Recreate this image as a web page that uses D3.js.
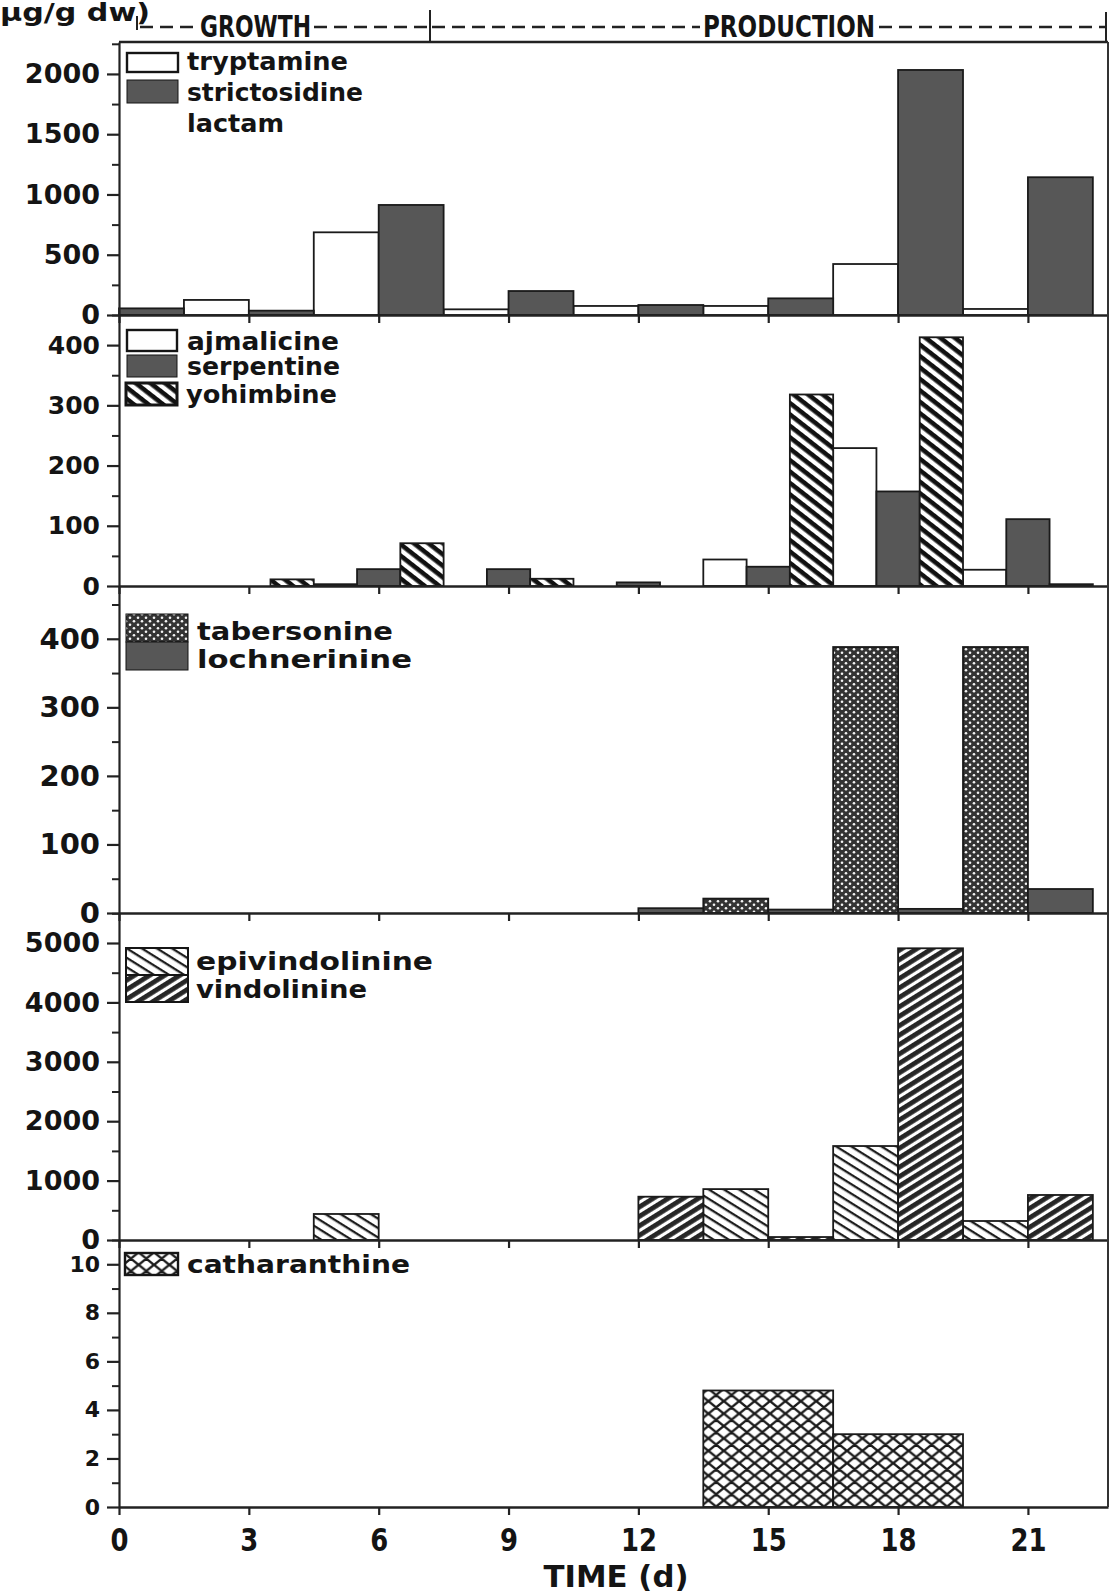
<!DOCTYPE html>
<html><head><meta charset="utf-8">
<script src="https://cdn.jsdelivr.net/npm/d3@7"></script>
<style>
body{margin:0;background:#fff}
svg{display:block}
text{font-family:"DejaVu Sans",sans-serif;font-weight:bold;fill:#141414}
</style>
</head><body>
<svg id="c" width="1110" height="1596"></svg>
<script>
// ---------------- data ----------------
const days = [0, 3, 6, 9, 12, 15, 18, 21];
const xTickValues = [0, 3, 6, 9, 12, 15, 18, 21];

const tryptamine    = [null, 125, 686, 47, 75, 75, 423, 50];
const strictosidine = [55, 36, 913, 199, 83, 138, 2033, 1143];

const ajmalicine = [0, 0, 3, 0, 0, 44, 229, 27];
const serpentine = [0, 0, 28, 28, 6, 32, 157, 111];
const yohimbine  = [0, 11, 71, 12, 0, 318, 413, 3];

const tabersonine  = [0, 0, 0, 0, 0, 21, 388, 388];
const lochnerinine = [0, 0, 0, 0, 7, 5, 6, 35];

const epivindolinine = [0, 0, 438, 0, 0, 857, 1582, 320];
const vindolinine    = [0, 0, 0, 0, 729, 50, 4911, 758];

const catharanthine = [0, 0, 0, 0, 0, 4.8, 3.0, 0];

const yTicks1 = [0, 500, 1000, 1500, 2000];
const yTicks2 = [0, 100, 200, 300, 400];
const yTicks3 = [0, 100, 200, 300, 400];
const yTicks4 = [0, 1000, 2000, 3000, 4000, 5000];
const yTicks5 = [0, 2, 4, 6, 8, 10];

// ---------------- setup ----------------
const svg = d3.select("#c");
const defs = svg.append("defs");

function stripes(id, angle, period, lineW, bg, fg) {
  const p = defs.append("pattern").attr("id", id)
    .attr("patternUnits", "userSpaceOnUse")
    .attr("width", period).attr("height", period)
    .attr("patternTransform", `rotate(${angle})`);
  p.append("rect").attr("width", period).attr("height", period).attr("fill", bg);
  p.append("rect").attr("width", period).attr("height", lineW).attr("fill", fg);
}
stripes("yoh", 38, 9, 4.6, "#fff", "#111");
stripes("epi", 32, 8, 2.3, "#fff", "#1e1e1e");
stripes("vin", -32, 8, 4.8, "#fff", "#262626");

// tabersonine: dark with white dots
const tp = defs.append("pattern").attr("id", "tab").attr("patternUnits", "userSpaceOnUse")
  .attr("width", 8).attr("height", 7);
tp.append("rect").attr("width", 8).attr("height", 7).attr("fill", "#333");
tp.append("circle").attr("cx", 2).attr("cy", 1.75).attr("r", 1.3).attr("fill", "#f4f4f4");
tp.append("circle").attr("cx", 6).attr("cy", 5.25).attr("r", 1.3).attr("fill", "#f4f4f4");

// catharanthine: diamond lattice
const cw = 15.4, ch = 12.4;
const cp = defs.append("pattern").attr("id", "cath").attr("patternUnits", "userSpaceOnUse")
  .attr("width", cw).attr("height", ch);
cp.append("rect").attr("width", cw).attr("height", ch).attr("fill", "#fff");
let cpath = "";
[[0,0],[cw,0],[-cw,0],[0,ch],[0,-ch]].forEach(([dx,dy]) => {
  cpath += `M${dx},${dy}L${dx+cw},${dy+ch}M${dx},${dy+ch}L${dx+cw},${dy}`;
});
cp.append("path").attr("d", cpath).attr("stroke", "#1a1a1a").attr("stroke-width", 2.4).attr("fill", "none");

const DARK = "#575757";

const x = d3.scaleLinear().domain([0, 22.85]).range([119, 1108]);

const panels = [
  { top: 42, zero: 315, max: 2265, ticks: yTicks1, minor: 250, fs: 27,
    series: [ {name: "tryptamine", v: tryptamine, fill: "#fff"},
              {name: "strictosidine", v: strictosidine, fill: DARK} ] },
  { top: 315, zero: 586, max: 450, ticks: yTicks2, minor: 50, fs: 25,
    series: [ {name: "ajmalicine", v: ajmalicine, fill: "#fff"},
              {name: "serpentine", v: serpentine, fill: DARK},
              {name: "yohimbine", v: yohimbine, fill: "url(#yoh)"} ] },
  { top: 586, zero: 913, max: 477, ticks: yTicks3, minor: 50, fs: 29,
    series: [ {name: "tabersonine", v: tabersonine, fill: "url(#tab)"},
              {name: "lochnerinine", v: lochnerinine, fill: DARK} ] },
  { top: 913, zero: 1240, max: 5505, ticks: yTicks4, minor: 500, fs: 27,
    series: [ {name: "epivindolinine", v: epivindolinine, fill: "url(#epi)"},
              {name: "vindolinine", v: vindolinine, fill: "url(#vin)"} ] },
  { top: 1240, zero: 1507, max: 11, ticks: yTicks5, minor: 1, fs: 22,
    series: [ {name: "catharanthine", v: catharanthine, fill: "url(#cath)"} ] }
];

panels.forEach((p, pi) => {
  const y = d3.scaleLinear().domain([0, p.max]).range([p.zero, p.top]);
  p.y = y;
  const n = p.series.length, w = 3 / n;
  const g = svg.append("g");
  p.series.forEach((s, i) => {
    const bars = days.map((d, j) => ({x0: d - 1.5 + i * w, v: s.v[j]}))
      .filter(b => b.v != null && b.v > 0 && b.x0 >= 0);
    g.selectAll(null).data(bars).enter().append("rect")
      .attr("x", b => x(b.x0))
      .attr("width", x(w) - x(0))
      .attr("y", b => y(b.v))
      .attr("height", b => y(0) - y(b.v))
      .attr("fill", s.fill)
      .attr("stroke", "#1a1a1a")
      .attr("stroke-width", 1.8);
  });

  // minor y ticks
  const minorVals = d3.range(0, p.max + 1e-9, p.minor).filter(v => !p.ticks.includes(v));
  svg.append("g").attr("transform", `translate(${x(0)},0)`)
    .call(d3.axisLeft(y).tickValues(minorVals).tickFormat("").tickSize(7).tickSizeOuter(0))
    .call(a => a.select(".domain").remove())
    .call(a => a.selectAll("line").attr("stroke", "#222").attr("stroke-width", 2));

  // major y ticks
  svg.append("g").attr("transform", `translate(${x(0)},0)`)
    .call(d3.axisLeft(y).tickValues(p.ticks).tickFormat(d3.format("d")).tickSize(12).tickPadding(7).tickSizeOuter(0))
    .call(a => a.select(".domain").attr("stroke", "#222").attr("stroke-width", 2.2))
    .call(a => a.selectAll("line").attr("stroke", "#222").attr("stroke-width", 2.2))
    .call(a => a.selectAll("text").attr("font-size", p.fs)
       .attr("font-family", "DejaVu Sans").attr("font-weight", "bold").attr("fill", "#141414"));

  // x axis (baseline + ticks)
  const last = pi === panels.length - 1;
  const xa = svg.append("g").attr("transform", `translate(0,${p.zero})`)
    .call(d3.axisBottom(x).tickValues(xTickValues).tickSize(8).tickSizeOuter(0)
      .tickPadding(10).tickFormat(last ? d3.format("d") : ""))
    .call(a => a.select(".domain").attr("stroke", "#222").attr("stroke-width", 2.4))
    .call(a => a.selectAll("line").attr("stroke", "#222").attr("stroke-width", 2.2));
  if (last) {
    xa.selectAll("text").attr("font-size", 32).attr("font-family", "DejaVu Sans")
      .attr("font-weight", "bold").attr("fill", "#141414")
      .attr("dy", null).attr("y", 44)
      .each(function(d) {
        const t = String(d);
        d3.select(this).attr("textLength", t.length * 18).attr("lengthAdjust", "spacingAndGlyphs");
      });
  }
});

// frame: top line and right line
svg.append("line").attr("x1", x(0)).attr("x2", x.range()[1]).attr("y1", panels[0].top).attr("y2", panels[0].top)
  .attr("stroke", "#222").attr("stroke-width", 2.4);
svg.append("line").attr("x1", x.range()[1]).attr("x2", x.range()[1])
  .attr("y1", panels[0].top).attr("y2", panels[panels.length - 1].zero)
  .attr("stroke", "#333").attr("stroke-width", 2);

// ---------------- legends ----------------
function legText(tx, ty, str, fs, len) {
  svg.append("text").attr("x", tx).attr("y", ty).attr("font-size", fs)
    .attr("textLength", len).attr("lengthAdjust", "spacingAndGlyphs").text(str);
}
function legBox(bx, by, bw, bh, fill, sw) {
  svg.append("rect").attr("x", bx).attr("y", by).attr("width", bw).attr("height", bh)
    .attr("fill", fill).attr("stroke", "#151515").attr("stroke-width", sw || 2);
}
// panel 1
legBox(127, 53, 51, 19, "#fff", 2.4);
legBox(127, 80, 51, 23, DARK, 1);
legText(187, 70, "tryptamine", 24, 161);
legText(187, 101, "strictosidine", 24, 176);
legText(187, 132, "lactam", 24, 97);
// panel 2
legBox(127, 330, 50, 21, "#fff", 2.4);
legBox(127, 355, 50, 22, DARK, 1);
legBox(126, 383, 51, 22, "url(#yoh)", 3);
legText(187, 350, "ajmalicine", 24, 152);
legText(187, 375, "serpentine", 24, 153);
legText(186, 403, "yohimbine", 24, 151);
// panel 3
legBox(126, 614, 62, 28, "url(#tab)", 1);
legBox(126, 642, 62, 28, DARK, 1);
legText(197, 640, "tabersonine", 25, 196);
legText(197, 668, "lochnerinine", 25, 215);
// panel 4
legBox(126, 948, 62, 27, "url(#epi)", 2);
legBox(126, 975, 62, 27, "url(#vin)", 2);
legText(196, 970, "epivindolinine", 25, 237);
legText(196, 998, "vindolinine", 25, 171);
// panel 5
legBox(125, 1253, 53, 22, "url(#cath)", 2.4);
legText(187, 1273, "catharanthine", 25, 223);

// ---------------- header ----------------
svg.append("text").attr("x", 0).attr("y", 21).attr("font-size", 24)
  .attr("textLength", 150).attr("lengthAdjust", "spacingAndGlyphs").text("μg/g dw)");
const dashSegs = [[140, 198], [314, 428], [432, 700], [879, 1105]];
dashSegs.forEach(([a, b]) => svg.append("line").attr("x1", a).attr("x2", b).attr("y1", 27).attr("y2", 27)
  .attr("stroke", "#222").attr("stroke-width", 2.6).attr("stroke-dasharray", "13,7"));
[[137, 16, 30], [430, 10, 42], [1106, 12, 42]].forEach(([vx, a, b]) =>
  svg.append("line").attr("x1", vx).attr("x2", vx).attr("y1", a).attr("y2", b)
    .attr("stroke", "#222").attr("stroke-width", 2));
svg.append("text").attr("x", 200).attr("y", 37).attr("font-size", 30)
  .attr("textLength", 111).attr("lengthAdjust", "spacingAndGlyphs").text("GROWTH");
svg.append("text").attr("x", 703).attr("y", 37).attr("font-size", 30)
  .attr("textLength", 172).attr("lengthAdjust", "spacingAndGlyphs").text("PRODUCTION");

// x axis title
svg.append("text").attr("x", 616).attr("y", 1587).attr("text-anchor", "middle").attr("font-size", 31)
  .attr("textLength", 145).attr("lengthAdjust", "spacingAndGlyphs").text("TIME (d)");
</script>
</body></html>
